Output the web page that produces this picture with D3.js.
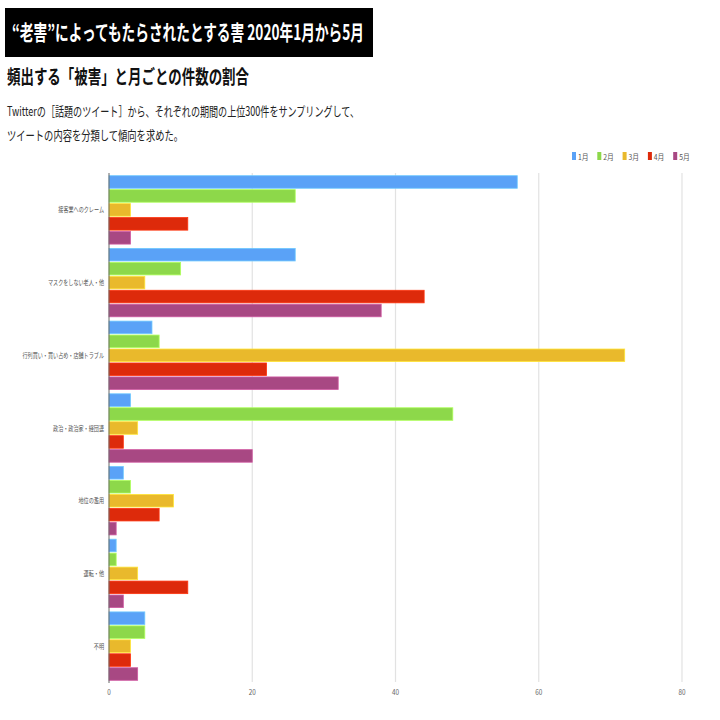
<!DOCTYPE html>
<html>
<head>
<meta charset="utf-8">
<script src="https://cdn.jsdelivr.net/npm/d3@7"></script>
<style>
  body { margin: 0; background: #fff; }
  text { font-family: "Noto Sans CJK JP", "Noto Sans", sans-serif; }
</style>
</head>
<body>
<div id="chart"></div>
<script>
var categories = ['接客業へのクレーム', 'マスクをしない老人・他', '行列買い・買い占め・店舗トラブル',
    '政治・政治家・経団連', '地位の濫用', '運転・他', '不明'];
var months = ['1月', '2月', '3月', '4月', '5月'];
var colors = ['#5aa2f7', '#8dd84a', '#e9b92c', '#dd2a0b', '#a84883'];
var jan = [57, 26, 6, 3, 2, 1, 5];
var feb = [26, 10, 7, 48, 3, 1, 5];
var mar = [3, 5, 72, 4, 9, 4, 3];
var apr = [11, 44, 22, 2, 7, 11, 3];
var may = [3, 38, 32, 20, 1, 2, 4];
var xTicks = [0, 20, 40, 60, 80];

var series = [jan, feb, mar, apr, may];

const width = 720;
const height = 720;

const svg = d3.select('#chart')
    .append('svg')
    .attr('width', width)
    .attr('height', height);

// header
svg.append('rect')
    .attr('x', 5).attr('y', 8)
    .attr('width', 368).attr('height', 49)
    .attr('fill', '#000');
svg.append('text')
    .attr('x', 12).attr('y', 40)
    .attr('fill', '#fff')
    .attr('font-size', 21)
    .attr('font-weight', 'bold')
    .attr('textLength', 352)
    .attr('lengthAdjust', 'spacingAndGlyphs')
    .text('“老害”によってもたらされたとする害 2020年1月から5月');
svg.append('text')
    .attr('x', 7).attr('y', 84)
    .attr('fill', '#111')
    .attr('font-size', 19)
    .attr('font-weight', 'bold')
    .attr('textLength', 242)
    .attr('lengthAdjust', 'spacingAndGlyphs')
    .text('頻出する「被害」と月ごとの件数の割合');
svg.append('text')
    .attr('x', 7).attr('y', 116)
    .attr('fill', '#222')
    .attr('font-size', 13)
    .attr('textLength', 352)
    .attr('lengthAdjust', 'spacingAndGlyphs')
    .text('Twitterの［話題のツイート］から、それぞれの期間の上位300件をサンプリングして、');
svg.append('text')
    .attr('x', 7).attr('y', 140)
    .attr('fill', '#222')
    .attr('font-size', 13)
    .attr('textLength', 176)
    .attr('lengthAdjust', 'spacingAndGlyphs')
    .text('ツイートの内容を分類して傾向を求めた。');

// legend
var legend = svg.append('g');
months.forEach(function(m, i){
    var g = legend.append('g').attr('transform', 'translate(' + (572 + i * 25.3) + ',152)');
    g.append('rect').attr('width', 4).attr('height', 8).attr('fill', colors[i]);
    g.append('text').attr('x', 7).attr('y', 7.5)
        .attr('font-size', 8).attr('fill', '#555')
        .attr('transform', 'scale(0.85,1)')
        .text(m);
});

// scales
var xScale = d3.scaleLinear().domain([0, 80]).range([109, 682]);
var yGroup = d3.scaleBand().domain(categories).range([175, 681]).paddingInner(0.04).paddingOuter(0);
var yMonth = d3.scaleBand().domain(months).range([0, yGroup.bandwidth()]).paddingInner(0.1).paddingOuter(0.05);

// grid
svg.append('g').selectAll('line')
    .data(xTicks.slice(1))
    .join('line')
    .attr('x1', d => xScale(d)).attr('x2', d => xScale(d))
    .attr('y1', 173).attr('y2', 682)
    .attr('stroke', '#e2e2e2')
    .attr('stroke-width', 1.2);

// bars
var rows = [];
categories.forEach(function(c, ci){
    months.forEach(function(m, mi){
        rows.push({cat: c, month: m, value: series[mi][ci], color: colors[mi]});
    });
});
svg.append('g').selectAll('rect')
    .data(rows)
    .join('rect')
    .attr('x', xScale(0))
    .attr('y', d => yGroup(d.cat) + yMonth(d.month))
    .attr('width', d => xScale(d.value) - xScale(0))
    .attr('height', yMonth.bandwidth())
    .attr('fill', d => d.color)
    .attr('stroke', d => d3.color(d.color).brighter(0.6))
    .attr('stroke-width', 0.8);

// axis line
svg.append('line')
    .attr('x1', xScale(0)).attr('x2', xScale(0))
    .attr('y1', 173).attr('y2', 683)
    .attr('stroke', '#666').attr('stroke-width', 1);

// category labels, condensed like the original
svg.append('g').selectAll('text')
    .data(categories)
    .join('text')
    .attr('transform', d => 'translate(104,' + (yGroup(d) + yGroup.bandwidth() / 2 + 2.5) + ') scale(0.73,1)')
    .attr('text-anchor', 'end')
    .attr('font-size', 7)
    .attr('fill', '#555')
    .text(d => d);

// x tick labels
svg.append('g').selectAll('text')
    .data(xTicks)
    .join('text')
    .attr('transform', d => 'translate(' + xScale(d) + ',695) scale(0.8,1)')
    .attr('text-anchor', 'middle')
    .attr('font-size', 8)
    .attr('fill', '#666')
    .text(d => d);
</script>
</body>
</html>
